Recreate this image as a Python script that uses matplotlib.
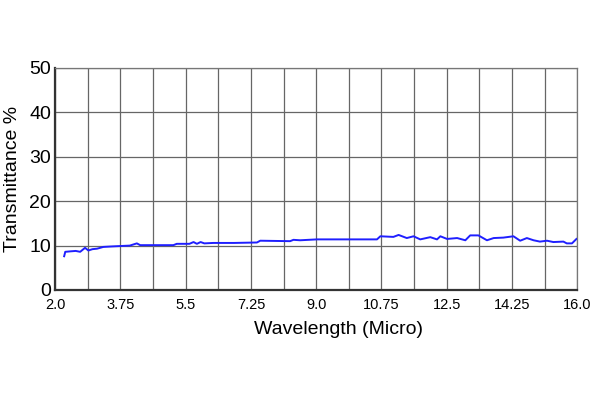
import matplotlib
matplotlib.use("Agg")
import matplotlib.pyplot as plt
import numpy as np

plt.rcParams['font.family'] = ['Liberation Sans', 'DejaVu Sans']

# values
wavelength = [2.24, 2.27, 2.40, 2.55, 2.67, 2.80, 2.89, 3.00, 3.12, 3.29, 3.50, 3.74, 4.00,
              4.19, 4.28, 4.70, 5.17, 5.26, 5.60, 5.71, 5.80, 5.90, 6.00, 6.24, 6.80,
              7.41, 7.50, 8.30, 8.39, 8.57, 9.02, 9.80, 10.63, 10.72, 11.07, 11.21,
              11.43, 11.61, 11.79, 12.06, 12.24, 12.33, 12.51, 12.78, 13.00, 13.13,
              13.35, 13.58, 13.76, 14.02, 14.29, 14.47, 14.65, 14.83, 15.00, 15.19,
              15.36, 15.63, 15.72, 15.86, 15.98]
transmittance = [7.6, 8.6, 8.7, 8.8, 8.6, 9.5, 8.9, 9.2, 9.3, 9.7, 9.8, 9.9, 10.0,
                 10.5, 10.1, 10.1, 10.1, 10.4, 10.4, 10.8, 10.4, 10.8, 10.5, 10.6, 10.6,
                 10.7, 11.1, 11.0, 11.3, 11.2, 11.4, 11.4, 11.4, 12.1, 11.96, 12.4,
                 11.7, 12.1, 11.4, 11.9, 11.4, 12.1, 11.5, 11.7, 11.2, 12.3,
                 12.3, 11.2, 11.7, 11.8, 12.1, 11.1, 11.7, 11.2, 10.9, 11.1,
                 10.8, 10.9, 10.5, 10.5, 11.5]

x_ticks = [2.0, 3.75, 5.5, 7.25, 9.0, 10.75, 12.5, 14.25, 16.0]
x_tick_labels = ['2.0', '3.75', '5.5', '7.25', '9.0', '10.75', '12.5', '14.25', '16.0']
y_ticks = [0, 10, 20, 30, 40, 50]

fig = plt.figure(figsize=(6, 4), dpi=100)
ax = fig.add_axes([0.092, 0.275, 0.87, 0.555])

ax.plot(wavelength, transmittance, color='#1f1fff', linewidth=1.4)

ax.set_xlim(2.0, 16.0)
ax.set_ylim(0, 50)
ax.set_xticks(x_ticks)
ax.set_xticklabels(x_tick_labels, fontsize=10.5)
ax.set_xticks(np.arange(2.0, 16.01, 0.875), minor=True)
ax.set_yticks(y_ticks)
ax.tick_params(axis='y', labelsize=14, length=0, pad=3)
ax.tick_params(axis='x', length=0, pad=6)
ax.tick_params(which='minor', length=0)

ax.grid(True, which='both', color='#666666', linewidth=0.9)
for side in ['top', 'right']:
    ax.spines[side].set_color('#777777')
    ax.spines[side].set_linewidth(0.9)
for side in ['left', 'bottom']:
    ax.spines[side].set_color('#333333')
    ax.spines[side].set_linewidth(1.6)

ax.set_xlabel('Wavelength (Micro)', fontsize=14)
ax.xaxis.set_label_coords(0.542, -0.138)
ax.set_ylabel('Transmittance %', fontsize=14, labelpad=6)

fig.savefig('out.png', dpi=100)
